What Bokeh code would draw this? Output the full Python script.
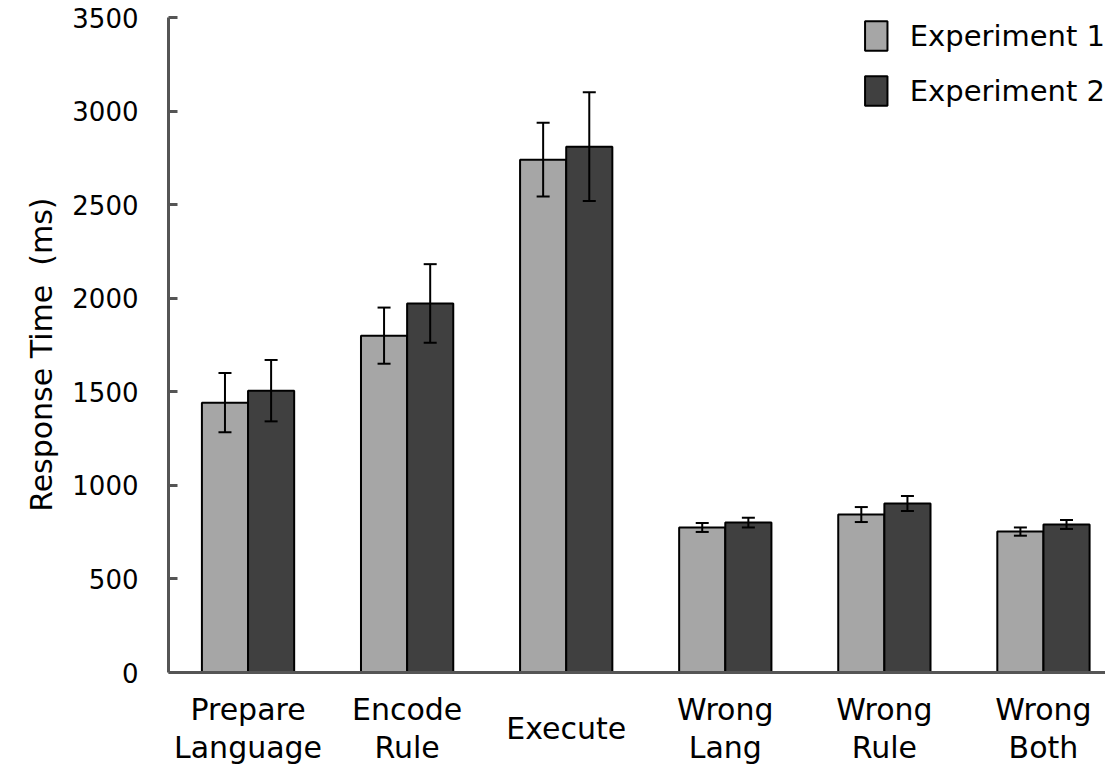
from bokeh.plotting import figure
from bokeh.models import (ColumnDataSource, Whisker, TeeHead, Range1d, Legend, LegendItem,
                          FixedTicker, Span, Title)
from bokeh.core.properties import value
from bokeh.embed import file_html
from bokeh.resources import INLINE

categories = ["Prepare\nLanguage", "Encode\nRule", "Execute", "Wrong\nLang", "Wrong\nRule", "Wrong\nBoth"]
exp1 = [1442, 1800, 2740, 775, 844, 753]
exp1_err = [158, 150, 197, 24, 40, 22]
exp2 = [1506, 1972, 2810, 801, 903, 791]
exp2_err = [164, 210, 290, 26, 40, 24]
y_ticks = [0, 500, 1000, 1500, 2000, 2500, 3000, 3500]
series_names = ["Experiment 1", "Experiment 2"]
colors = ["#a6a6a6", "#404040"]
y_title = "Response Time\u00a0 (ms)"

FONT = "DejaVu Sans"
dodge = 0.145
bar_w = 0.29
Y_MAX = 3500
AXIS_PX = 655          # px from 0 to Y_MAX
BELOW_PX = 100         # px of frame kept below the zero line for category names
LABEL_DROP_PX = 56     # centre of category names below the zero line
Y_START = -Y_MAX * BELOW_PX / AXIS_PX

centers = [i + 0.5 for i in range(len(categories))]
x1 = [c - dodge for c in centers]
x2 = [c + dodge for c in centers]

src1 = ColumnDataSource(dict(x=x1, top=exp1, upper=[v + e for v, e in zip(exp1, exp1_err)],
                             lower=[v - e for v, e in zip(exp1, exp1_err)]))
src2 = ColumnDataSource(dict(x=x2, top=exp2, upper=[v + e for v, e in zip(exp2, exp2_err)],
                             lower=[v - e for v, e in zip(exp2, exp2_err)]))
lab_src = ColumnDataSource(dict(x=centers, y=[-LABEL_DROP_PX * Y_MAX / AXIS_PX] * len(centers),
                                text=categories))

p = figure(width=1105, height=772, output_backend="svg", toolbar_location=None,
           x_range=Range1d(0, 5.89), y_range=Range1d(Y_START, Y_MAX),
           min_border_left=168, min_border_right=0, min_border_top=17, min_border_bottom=0)
p.outline_line_color = None
p.xgrid.visible = False
p.ygrid.visible = False
p.xaxis.visible = False

r1 = p.vbar(x="x", top="top", bottom=0, width=bar_w, source=src1, fill_color=colors[0],
            line_color="black", line_width=2)
r2 = p.vbar(x="x", top="top", bottom=0, width=bar_w, source=src2, fill_color=colors[1],
            line_color="black", line_width=2)

for src in (src1, src2):
    w = Whisker(base="x", upper="upper", lower="lower", source=src, line_color="black", line_width=2,
                level="overlay",
                upper_head=TeeHead(size=13, line_width=2, line_color="black"),
                lower_head=TeeHead(size=13, line_width=2, line_color="black"))
    p.add_layout(w)

# baseline (x axis line) at zero
p.add_layout(Span(location=0, dimension="width", line_color="#555555", line_width=3, level="overlay"))

# category names
p.text(x="x", y="y", text="text", source=lab_src, text_align="center", text_baseline="middle",
       text_font=value(FONT), text_font_size=value("30px"), text_color="black", text_line_height=1.1)

# y axis
ya = p.yaxis[0]
ya.bounds = (0, Y_MAX)
ya.ticker = FixedTicker(ticks=y_ticks)
ya.major_label_text_font = FONT
ya.major_label_text_font_size = "26px"
ya.major_label_text_color = "black"
ya.major_label_standoff = 30
ya.major_tick_in = 9
ya.major_tick_out = 0
ya.minor_tick_line_color = None
ya.axis_line_color = "#555555"
ya.axis_line_width = 3
ya.major_tick_line_color = "#555555"
ya.major_tick_line_width = 3

# y axis title, placed along the left side
p.add_layout(Title(text=y_title, align="right", offset=180, standoff=22,
                   text_font=FONT, text_font_size="30px", text_font_style="normal",
                   text_color="black"), "left")

legend = Legend(items=[LegendItem(label=series_names[0], renderers=[r1]),
                       LegendItem(label=series_names[1], renderers=[r2])],
                location="top_right", border_line_color=None, background_fill_alpha=0,
                label_text_font=FONT, label_text_font_size="29px", label_text_color="black",
                glyph_width=28, glyph_height=37, spacing=18, padding=0, margin=0,
                label_standoff=20)
p.add_layout(legend)

open("out.html", "w").write(file_html(p, INLINE))
